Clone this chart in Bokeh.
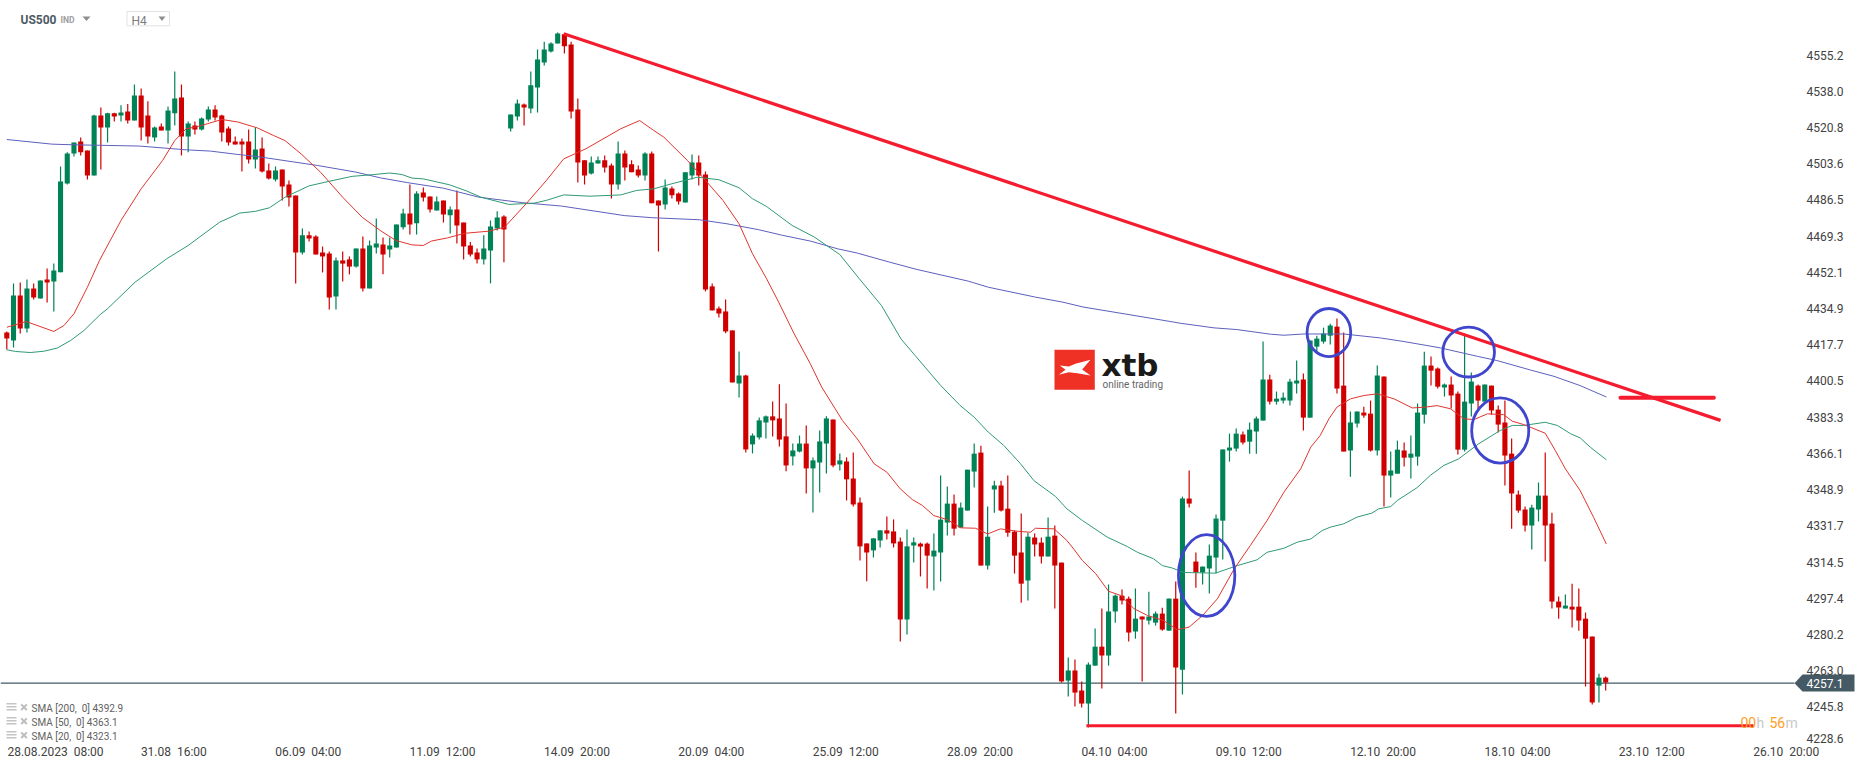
from bokeh.plotting import figure
from bokeh.models import Range1d, LinearAxis, FixedTicker, Label, ColumnDataSource
from bokeh.embed import file_html
from bokeh.resources import INLINE

opens = [4423.5,4419.7,4441.1,4425.4,4444.4,4439.6,4448.7,4447.7,4452.1,4494.2,
4508.5,4514.2,4509.9,4498.0,4526.5,4520.8,4527.5,4526.5,4528.4,4524.1,
4536.0,4526.5,4516.1,4521.3,4519.4,4527.5,4535.0,4516.5,4521.8,4519.9,
4524.6,4529.3,4526.5,4520.3,4514.2,4514.2,4514.2,4505.6,4510.8,4500.4,
4496.1,4500.9,4493.8,4488.5,4461.5,4469.6,4469.1,4461.5,4461.0,4440.6,
4457.7,4458.2,4454.8,4463.4,4444.4,4463.9,4465.3,4462.9,4463.9,4473.4,
4480.0,4475.3,4490.0,4488.1,4481.4,4486.2,4479.1,4481.9,4475.7,4464.8,
4461.5,4458.2,4462.4,4472.9,4478.6,4520.3,4526.0,4531.7,4529.8,4539.8,
4551.7,4556.9,4560.7,4565.0,4560.2,4529.3,4505.2,4499.0,4503.7,4505.2,
4502.8,4493.8,4508.5,4503.3,4500.9,4498.0,4508.5,4486.2,4484.3,4491.9,
4489.5,4485.2,4498.0,4504.2,4498.5,4445.4,4434.9,4433.5,4424.5,4399.3,
4403.1,4370.4,4373.7,4380.8,4383.7,4382.7,4374.2,4364.7,4367.0,4370.8,
4359.0,4361.8,4370.8,4382.2,4360.9,4362.3,4354.2,4342.8,4323.4,4320.1,
4324.8,4329.6,4329.1,4324.3,4287.3,4322.4,4323.3,4323.3,4317.2,4319.1,
4333.3,4342.3,4330.9,4339.0,4357.5,4366.5,4312.9,4349.0,4350.9,4339.9,
4329.0,4319.1,4305.8,4326.2,4323.8,4317.2,4327.1,4314.3,4258.3,4263.1,
4253.6,4247.4,4265.4,4274.4,4270.2,4291.1,4298.6,4297.2,4281.6,4288.7,
4286.8,4285.8,4290.1,4282.0,4297.2,4263.5,4344.7,4314.8,4309.6,4311.5,
4316.7,4334.2,4367.5,4368.4,4375.1,4371.7,4376.5,4381.7,4401.2,4390.7,
4391.2,4391.2,4399.3,4401.2,4383.1,4416.8,4419.2,4422.0,4426.3,4398.3,
4367.5,4380.3,4385.5,4385.0,4367.5,4402.6,4355.6,4356.5,4367.5,4364.1,
4364.6,4384.5,4407.8,4406.4,4397.4,4398.8,4394.5,4367.9,4389.8,4398.3,
4390.7,4398.3,4386.9,4380.8,4366.0,4346.6,4339.5,4331.9,4339.5,4346.1,
4332.8,4295.8,4292.5,4293.4,4293.4,4287.7,4279.2,4255.9,4259.7]

closes = [4420.7,4441.1,4425.4,4444.4,4440.1,4448.2,4447.2,4452.9,4495.2,4508.5,
4513.7,4509.0,4498.0,4526.5,4520.8,4527.5,4526.0,4527.9,4524.1,4536.0,
4520.8,4516.5,4520.8,4519.4,4528.9,4534.6,4516.5,4522.7,4519.9,4525.1,
4529.3,4525.5,4518.4,4513.7,4512.7,4512.7,4505.6,4510.4,4499.9,4496.6,
4500.4,4492.8,4487.6,4461.5,4469.6,4468.1,4460.5,4459.6,4440.1,4457.7,
4456.2,4454.8,4463.4,4444.4,4464.8,4465.8,4460.5,4464.8,4474.8,4480.0,
4474.8,4489.5,4487.6,4481.9,4485.7,4479.5,4481.9,4474.3,4464.3,4460.5,
4458.2,4463.4,4473.8,4478.1,4472.4,4527.0,4532.2,4530.3,4540.8,4553.1,
4557.8,4560.7,4565.4,4559.3,4528.4,4504.2,4498.0,4504.2,4505.2,4501.8,
4493.8,4508.5,4501.8,4499.5,4498.0,4508.5,4484.8,4483.8,4492.3,4488.6,
4485.7,4499.5,4504.2,4498.0,4443.9,4434.0,4432.5,4424.0,4399.8,4403.1,
4368.0,4374.6,4381.8,4383.7,4381.8,4372.7,4360.4,4367.5,4370.8,4359.0,
4362.8,4371.8,4382.7,4360.4,4362.8,4353.8,4341.9,4322.0,4319.1,4325.8,
4329.6,4328.1,4323.4,4287.3,4322.0,4323.9,4321.9,4317.6,4320.0,4334.7,
4342.3,4330.4,4340.4,4358.4,4366.0,4312.9,4326.6,4350.9,4339.0,4328.5,
4317.6,4304.3,4326.6,4322.9,4317.2,4326.6,4312.9,4257.9,4263.1,4252.6,
4247.4,4265.9,4274.4,4270.2,4291.1,4298.6,4296.3,4281.1,4287.7,4287.3,
4288.7,4290.1,4282.5,4297.2,4264.5,4344.7,4342.3,4309.6,4312.4,4317.6,
4335.2,4368.0,4368.9,4375.5,4371.3,4377.4,4382.7,4401.2,4390.7,4392.1,
4392.6,4400.2,4400.7,4383.1,4419.7,4420.6,4423.0,4426.8,4396.9,4367.0,
4380.8,4386.0,4384.1,4367.5,4403.1,4355.6,4358.0,4367.9,4364.1,4366.0,
4385.5,4407.8,4405.4,4397.8,4398.8,4393.6,4367.9,4390.7,4400.2,4391.2,
4398.8,4386.5,4379.8,4365.1,4347.1,4339.0,4331.9,4340.4,4346.1,4331.9,
4295.8,4293.0,4293.9,4292.0,4286.8,4278.2,4247.9,4259.7,4257.4]

highs = [4424.0,4446.8,4447.2,4448.7,4446.8,4448.2,4453.9,4456.3,4502.3,4509.1,
4513.7,4516.1,4509.9,4526.8,4530.3,4527.8,4527.8,4531.3,4532.0,4541.2,
4539.3,4533.2,4521.3,4522.7,4530.8,4547.4,4541.2,4523.7,4523.7,4525.5,
4530.8,4531.3,4526.8,4521.3,4516.5,4515.6,4519.9,4520.8,4516.1,4503.7,
4502.3,4500.9,4495.6,4488.5,4472.9,4471.4,4469.6,4464.3,4462.0,4459.1,
4462.0,4459.6,4463.4,4469.1,4467.2,4477.6,4468.6,4468.6,4474.8,4482.2,
4493.8,4490.5,4492.3,4488.1,4488.1,4486.2,4483.3,4490.9,4475.7,4466.5,
4463.4,4469.6,4476.7,4481.0,4479.1,4527.0,4534.1,4532.2,4547.4,4557.8,
4561.5,4561.2,4565.9,4565.4,4561.5,4534.6,4505.2,4507.0,4507.0,4507.5,
4503.7,4514.2,4509.9,4505.2,4502.8,4509.0,4509.4,4486.2,4496.1,4492.8,
4490.0,4499.5,4508.0,4507.5,4499.9,4446.8,4435.9,4439.2,4424.5,4414.5,
4403.4,4375.6,4383.2,4384.1,4390.8,4398.9,4389.8,4370.8,4374.6,4379.4,
4364.2,4377.0,4383.7,4382.2,4366.1,4364.2,4366.6,4345.2,4323.4,4325.8,
4329.6,4336.2,4334.8,4326.2,4330.0,4326.2,4323.8,4323.8,4328.1,4355.6,
4350.4,4346.6,4342.8,4358.4,4370.8,4369.8,4340.9,4353.2,4353.2,4355.6,
4329.5,4337.6,4328.5,4328.1,4326.2,4335.7,4331.9,4314.3,4269.2,4268.3,
4257.9,4266.9,4283.0,4292.5,4303.9,4299.1,4301.5,4298.2,4302.0,4288.7,
4300.5,4291.1,4292.9,4297.2,4305.3,4345.6,4358.0,4319.1,4312.4,4322.9,
4337.1,4368.0,4375.5,4377.9,4376.5,4380.8,4383.6,4419.2,4403.5,4395.5,
4395.0,4401.6,4410.2,4404.0,4419.7,4422.0,4425.8,4427.7,4430.1,4423.5,
4386.0,4386.0,4388.3,4391.2,4407.8,4402.6,4367.0,4372.2,4371.3,4374.6,
4389.8,4414.4,4412.1,4406.9,4399.3,4402.6,4395.5,4422.0,4404.5,4398.8,
4398.8,4398.3,4388.8,4391.2,4373.2,4348.5,4340.9,4341.8,4352.3,4366.5,
4338.0,4298.2,4299.1,4304.3,4302.0,4290.6,4279.2,4261.6,4260.2]

lows = [4415.4,4416.4,4423.0,4423.5,4439.2,4439.6,4437.7,4433.5,4452.1,4493.8,
4507.0,4507.5,4496.1,4498.0,4500.9,4513.7,4523.7,4523.7,4522.7,4524.1,
4514.6,4513.2,4514.2,4519.4,4513.2,4521.8,4507.5,4509.0,4517.5,4519.4,
4523.7,4524.1,4514.2,4512.3,4512.7,4499.9,4503.7,4501.3,4499.4,4496.1,
4495.2,4486.2,4483.3,4446.8,4460.5,4466.7,4460.5,4452.0,4434.4,4434.4,
4447.7,4451.1,4454.4,4443.0,4444.4,4461.0,4451.1,4459.1,4463.9,4472.4,
4470.0,4470.0,4485.7,4480.5,4481.4,4475.7,4470.5,4465.8,4458.2,4459.6,
4456.2,4455.8,4446.8,4471.9,4456.8,4518.9,4524.1,4521.8,4527.5,4527.9,
4550.2,4556.4,4560.7,4555.9,4525.1,4494.7,4493.8,4498.5,4503.7,4499.4,
4487.1,4491.4,4495.7,4499.5,4497.1,4495.7,4484.8,4462.0,4481.9,4487.1,
4484.3,4485.2,4496.1,4493.3,4443.0,4434.0,4430.6,4423.1,4399.8,4392.7,
4366.6,4366.1,4372.7,4373.2,4374.2,4369.4,4357.6,4360.4,4366.6,4347.1,
4338.1,4347.6,4356.6,4359.5,4358.0,4343.8,4340.9,4315.3,4305.4,4316.7,
4321.5,4325.3,4321.5,4276.9,4280.2,4314.4,4307.7,4302.0,4301.0,4305.3,
4327.1,4327.1,4330.9,4339.0,4349.9,4312.9,4311.0,4338.0,4338.5,4326.6,
4309.1,4295.3,4296.3,4317.2,4313.9,4317.2,4292.5,4257.4,4250.7,4246.0,
4245.5,4236.0,4265.4,4254.5,4265.4,4285.8,4294.4,4276.8,4278.2,4257.9,
4284.9,4284.4,4282.0,4282.0,4242.7,4251.7,4340.4,4302.4,4303.9,4299.6,
4309.1,4315.8,4362.2,4367.0,4370.3,4366.0,4366.0,4381.7,4389.3,4389.3,
4389.8,4388.8,4394.5,4377.0,4383.1,4414.0,4418.2,4417.8,4394.5,4367.0,
4355.1,4378.4,4383.1,4367.0,4365.1,4340.9,4345.2,4356.5,4359.9,4354.2,
4360.3,4380.3,4398.3,4396.9,4393.1,4387.4,4365.6,4367.0,4383.6,4386.5,
4390.7,4384.5,4376.0,4350.9,4330.4,4338.0,4329.0,4320.5,4333.8,4314.8,
4292.5,4287.7,4292.5,4283.5,4282.0,4255.5,4246.9,4247.9,4253.6]

sma20_bar = [0,2.9,7,8.5,10,12,13.8,17,20,23.2,25,26.7,28.5,32,34.4,37.3,39.7,41.4,43.8,46.7,50,52.9,55.6,57.9,60.3,62,63.2,65.6,68.2,71.8,74.1,77.3,80.3,82.9,86.2,91.4,94.2,96.3,97.8,101.3,104,106.6,109,111,113.1,114.9,117.2,119.6,121.3,124.4,126.6,129.1,131,133,134.8,136.3,138,140,142,144.2,146,147.9,150.4,152.4,153.1,155.9,157.8,158.8,160.1,162.1,164,165.8,167.8,169.8,172.2,174.2,176,178,180.2,182.7,185.1,187.6,190.1,192.6,194.1,195.5,196.8,198,200,202,204,206.5,209.2,211.2,212.9,214.9,216.9,218.4,220.4,222.8,224.1,225.8,229,230.5,232,234.2,236.2,238.1]
sma20_val = [4426,4428.7,4424,4426.8,4432.4,4445,4457.7,4476.7,4491.7,4505.2,4514.6,4520.2,4521.3,4524.6,4523.4,4520.6,4517,4514.6,4508.3,4499.6,4487.7,4478.2,4471.9,4467.2,4465.1,4464.8,4466.9,4468.4,4470.6,4471.6,4473.5,4484.6,4495.6,4505.9,4510.7,4520.2,4524.1,4519.4,4516.2,4505.2,4495.7,4486.2,4475.1,4460.9,4449,4437.9,4422.9,4408.7,4397.6,4381.7,4373,4361.2,4357.2,4349.3,4344.2,4341.4,4336.6,4334.7,4330.8,4330.6,4327.9,4330.3,4329.2,4328.7,4330.6,4330.3,4324.8,4320.8,4315.3,4309,4300.7,4298.7,4292.4,4289.2,4286.8,4282.4,4283.7,4289.2,4297.1,4311.3,4322.4,4334.3,4347.7,4358.8,4369.1,4374.6,4382.5,4388.1,4392,4393.6,4394.4,4392,4387.7,4388.1,4388.8,4387.3,4382.5,4382.2,4384.9,4384.5,4381.4,4379.8,4375.7,4367.5,4358.8,4348.5,4335.8,4323.1]

sma50_bar = [0,1.3,3.5,5.5,7.5,9.5,11.5,13.9,15,19.1,23.8,27,31.7,34.7,37,39.1,41.4,45,47.9,51.4,54.4,57,58.8,60.3,62,65.9,68.5,70.6,74.7,78.5,80.3,82.9,86.8,91.4,93.7,96.3,99,102.8,106,109,111,113.1,116.9,120.2,124,126.9,130.2,133.1,135.2,139,141.9,144,146.1,148.4,150.9,152.9,156.1,157.8,160.1,163.8,166.8,168.3,170.7,172,173.5,175.2,179.9,183.2,186.1,187.6,190.1,192.1,194.1,195.8,197,199,201,203.2,204.2,206,207,209.9,211.9,213.9,216.1,219.1,222.3,224.1,225.8,229,230.8,232.8,234.2,235.7,238.1]
sma50_val = [4415.3,4414.5,4414,4414.6,4416.1,4419.7,4424.5,4432,4434.8,4447.4,4458.5,4464.8,4475.9,4480.2,4481,4482.7,4487.7,4493.1,4495.2,4497.6,4498.4,4499.2,4498.5,4496.8,4496.4,4493.6,4490.6,4487.7,4484.3,4484.9,4486.2,4488.8,4488.2,4488.8,4490.9,4491.7,4494.1,4497.2,4496,4492.2,4487,4483.3,4474.3,4468.8,4460.5,4449,4436.3,4420.5,4412.6,4398.4,4388.9,4383.3,4376.2,4369.9,4361.2,4353.2,4345.7,4339.8,4334.3,4326.4,4321.9,4319.2,4316.1,4312.9,4311.7,4309.6,4309.3,4312.9,4315.6,4319.2,4321.1,4324,4325.5,4329.5,4331.1,4332.7,4335.9,4337.8,4339.8,4340.9,4343.8,4349.8,4355.7,4360.4,4363.5,4370.7,4377,4379.4,4379.4,4380.9,4379.4,4375.4,4373.5,4369.1,4363.1]

sma200_bar = [0,6.7,9.7,19.7,26.7,30.3,34.4,37.3,46.2,52,55.6,59.7,65,70.3,76.8,82.6,91.9,96,103.1,107.2,111.9,115.5,119.6,123.7,126.6,131.4,135.5,143.1,146.1,153.1,157.2,160.2,170.8,174.7,179.7,183.1,188.1,190.1,193.1,199,204.5,208,213.4,218.9,221.8,226.8,230.3,234.2,238.1]
sma200_val = [4515.1,4512.9,4512.6,4512,4510.2,4509.6,4508,4507,4502.8,4499.6,4496.9,4494.6,4492,4487.7,4485.1,4483.5,4479,4478,4477,4475.1,4472.3,4469.6,4466.9,4463.2,4461.2,4456.9,4453.4,4447.9,4445,4440.3,4437.9,4435.6,4430,4427.9,4425.7,4424.9,4422.7,4422.2,4422.8,4422.8,4420.9,4419.2,4416.2,4412.2,4410.2,4405.7,4402.7,4398.3,4392.9]

trend_bar = [82.9, 255.1]
trend_val = [4565.3, 4381.8]
level_bar = [240.2, 254.1]
level_val = [4392.5, 4392.5]
floor_bar = [160.7, 260.0]
floor_val = [4236.9, 4236.9]
circle_bar = [178.6, 196.8, 217.6, 222.3]
circle_val = [4308.2, 4423.5, 4414.2, 4377.0]
circle_w = [8.4, 6.5, 7.7, 8.5]
circle_h = [38.9, 22.8, 23.7, 30.9]
last_price = 4257.1

NB = "\u00a0\u00a0"
time_ticks = [7.25,24.87,44.87,64.87,84.87,104.87,124.87,144.87,164.87,184.87,204.87,224.87,244.87,264.87]
time_labels = ["28.08.2023"+NB+"08:00","31.08"+NB+"16:00","06.09"+NB+"04:00","11.09"+NB+"12:00","14.09"+NB+"20:00","20.09"+NB+"04:00","25.09"+NB+"12:00","28.09"+NB+"20:00","04.10"+NB+"04:00","09.10"+NB+"12:00","12.10"+NB+"20:00","18.10"+NB+"04:00","23.10"+NB+"12:00","26.10"+NB+"20:00"]
price_ticks = [4555.2,4538.0,4520.8,4503.6,4486.5,4469.3,4452.1,4434.9,4417.7,4400.5,4383.3,4366.1,4348.9,4331.7,4314.5,4297.4,4280.2,4263.0,4245.8,4231.0]
price_labels = ["4555.2","4538.0","4520.8","4503.6","4486.5","4469.3","4452.1","4434.9","4417.7","4400.5","4383.3","4366.1","4348.9","4331.7","4314.5","4297.4","4280.2","4263.0","4245.8","4228.6"]
sma_legend = ["SMA [200,"+NB+"0] 4392.9","SMA [50,"+NB+"0] 4363.1","SMA [20,"+NB+"0] 4323.1"]

STEP = 6.718
X0 = 6.3
Y0 = 4581.07
K = 0.4746
def xp(px): return (px - X0) / STEP
def yp(py): return Y0 - K * py

p = figure(width=1866, height=767, output_backend="svg", toolbar_location=None,
           x_range=Range1d(xp(0), xp(1866)), y_range=Range1d(yp(767), yp(0)),
           x_axis_type=None, y_axis_type=None, min_border=0, outline_line_color=None)
p.grid.visible = False

RED = "#d10000"
GREEN = "#008257"
idx = list(range(len(opens)))
colors = [GREEN if c > o else RED for o, c in zip(opens, closes)]
src = ColumnDataSource(dict(x=idx, o=opens, c=closes, h=highs, l=lows, color=colors))

p.line([xp(0), xp(1794)], [last_price, last_price], line_color="#455a64", line_width=1.2)
p.segment("x", "h", "x", "l", source=src, line_color="color", line_width=1.2)
p.vbar("x", 0.76, "o", "c", source=src, fill_color="color", line_color=None)

p.line(sma200_bar, sma200_val, line_color="#5d60bd", line_width=1)
p.line(sma50_bar, sma50_val, line_color="#2f9a74", line_width=1)
p.line(sma20_bar, sma20_val, line_color="#e0352f", line_width=1)

p.line(trend_bar, trend_val, line_color="#f41c2e", line_width=3.2)
p.line(level_bar, level_val, line_color="#f41c2e", line_width=4, line_cap="round")
p.line(floor_bar, floor_val, line_color="#f41c2e", line_width=3)
p.ellipse(circle_bar, circle_val, width=circle_w, height=circle_h, fill_color=None,
          line_color="#3f45cc", line_width=2.8)

def label(x, y, text, size, color, font="Roboto", style="normal", align="left"):
    p.add_layout(Label(x=xp(x), y=yp(y), text=text, text_font=font, text_font_size=f"{size}px",
                       text_color=color, text_font_style=style, text_align=align,
                       text_baseline="middle"))

# price marker
p.patch([xp(v) for v in (1794, 1802, 1854, 1854, 1802)], [yp(v) for v in (682.7, 674, 674, 691, 691)],
        fill_color="#455a64", line_color=None)
label(1806, 683, "4257.1", 12, "#ffffff")

# header
label(20, 19, "US500", 12, "#4d5a63", style="bold")
label(60, 19.5, "IND", 8.5, "#9e9e9e", style="bold")
p.patch([xp(v) for v in (82, 90, 86)], [yp(v) for v in (16, 16, 20.5)], fill_color="#8e8e8e", line_color=None)
p.quad(left=[xp(126.5)], right=[xp(169)], top=[yp(11)], bottom=[yp(25.3)], fill_color="#ffffff", line_color="#e2e2e2", line_width=1)
label(131, 20, "H4", 12, "#7d7d7d")
p.patch([xp(v) for v in (158, 165, 161.5)], [yp(v) for v in (16, 16, 20.5)], fill_color="#8e8e8e", line_color=None)

# logo
p.quad(left=[xp(1054)], right=[xp(1094.3)], top=[yp(349.3)], bottom=[yp(389.3)], fill_color="#ee3124", line_color=None)
logo_x = [58, 85, 105, 150, 125, 150, 110, 85, 55, 75]
logo_y = [105, 108, 100, 88, 117, 135, 128, 125, 133, 118]
p.patch([xp(1040 + v / 3) for v in logo_x], [yp(330 + v / 3) for v in logo_y], fill_color="#ffffff", line_color=None)
label(1101, 364.5, "xtb", 31, "#1a1a1a", font="DejaVu Sans", style="bold")
label(1102, 384, "online trading", 10, "#666666")

# SMA legend
for text, yy in zip(sma_legend, (707.7, 721.7, 735.7)):
    label(31, yy, text, 10, "#616161")
    for dy in (-3.5, -0.5, 2.5):
        p.quad(left=[xp(6)], right=[xp(16)], top=[yp(yy - 1 + dy - 0.8)], bottom=[yp(yy - 1 + dy + 0.8)], fill_color="#c4c4c4", line_color=None)
    p.scatter([xp(23.5)], [yp(yy - 1)], marker="x", size=8, line_color="#bdbdbd", line_width=2)

# countdown
label(1740, 722, "00", 14, "#ff9d25")
label(1756, 722, "h", 14, "#c9c9c9")
label(1769, 722, "56", 14, "#ff9d25")
label(1785, 722, "m", 14, "#c9c9c9")

yaxis = LinearAxis(fixed_location=xp(1843), ticker=FixedTicker(ticks=price_ticks),
                   major_label_overrides=dict(zip(price_ticks, price_labels)))
xaxis = LinearAxis(fixed_location=yp(744), ticker=FixedTicker(ticks=time_ticks),
                   major_label_overrides=dict(zip(time_ticks, time_labels)))
for ax in (xaxis, yaxis):
    ax.axis_line_color = None
    ax.major_tick_line_color = None
    ax.minor_tick_line_color = None
    ax.major_tick_out = 0
    ax.major_tick_in = 0
    ax.minor_tick_out = 0
    ax.minor_tick_in = 0
    ax.major_label_standoff = 0
    ax.major_label_text_font = "Roboto"
    ax.major_label_text_font_size = "12px"
    ax.major_label_text_color = "#424242"
p.add_layout(yaxis, "left")
p.add_layout(xaxis, "below")

open("out.html", "w").write(file_html(p, INLINE))
